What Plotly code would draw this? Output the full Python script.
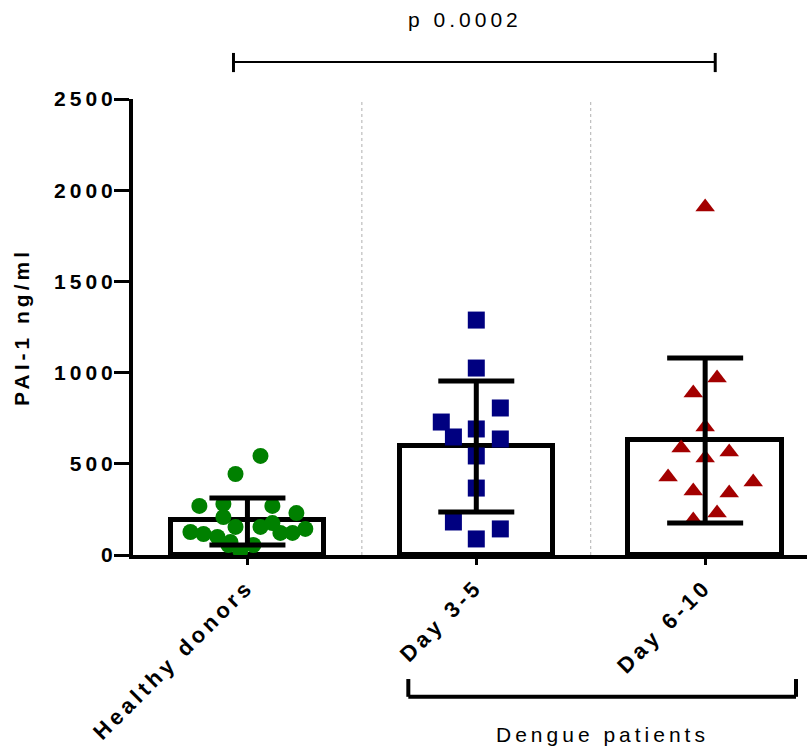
import plotly.graph_objects as go

# ---- data ----
categories = ["Healthy donors", "Day 3-5", "Day 6-10"]
bar_means = [192, 598, 630]
err_upper = [312, 954, 1080]
err_lower = [55, 236, 175]

healthy_values = [543, 444, 269, 280, 269, 230, 208, 154, 126, 115, 99, 71,
                  154, 175, 121, 121, 143, 22, 55, 55]
healthy_jitter = [0.057, -0.052, -0.21, -0.105, 0.109, 0.214, -0.105, -0.052,
                  -0.249, -0.192, -0.131, -0.074, 0.057, 0.109, 0.144, 0.197,
                  0.253, -0.031, 0.026, -0.083]

day35_values = [1288, 1025, 806, 729, 647, 691, 636, 543, 367, 181, 143, 88]
day35_jitter = [0.0, 0.0, 0.105, -0.153, -0.1, 0.0, 0.105, 0.0, 0.0, -0.1, 0.105, 0.0]

day610_values = [1908, 970, 888, 702, 587, 565, 532, 428, 400, 351, 340, 230, 192]
day610_jitter = [0.0, 0.052, -0.052, 0.0, -0.105, 0.105, 0.0, -0.162, 0.21,
                 -0.052, 0.105, 0.052, -0.052]

y_ticks = [0, 500, 1000, 1500, 2000, 2500]
p_text = "p 0.0002"
group_text = "Dengue patients"
y_title = "PAI-1 ng/ml"

FONT = "Liberation Sans, Arial, sans-serif"
FS = 21

fig = go.Figure()

# bars (white fill, black outline)
fig.add_trace(go.Bar(
    x=[0, 1, 2], y=bar_means, width=0.67,
    marker=dict(color="white", line=dict(color="black", width=5)),
    hoverinfo="skip", showlegend=False,
))

# points
groups = [
    (0, healthy_values, healthy_jitter, "circle", "#008000", 16),
    (1, day35_values, day35_jitter, "square", "#000080", 17),
    (2, day610_values, day610_jitter, "triangle-up", "#A30000", 17),
]
for gi, vals, jit, sym, col, sz in groups:
    fig.add_trace(go.Scatter(
        x=[gi + j for j in jit], y=vals, mode="markers",
        marker=dict(symbol=sym, color=col, size=sz, line=dict(width=0)),
        cliponaxis=False, showlegend=False,
    ))

# error bars (drawn on top of points)
fig.add_trace(go.Scatter(
    x=[0, 1, 2], y=bar_means, mode="markers",
    marker=dict(size=1, color="rgba(0,0,0,0)"),
    error_y=dict(type="data", symmetric=False,
                 array=[u - m for u, m in zip(err_upper, bar_means)],
                 arrayminus=[m - l for m, l in zip(bar_means, err_lower)],
                 thickness=5, width=38, color="black"),
    cliponaxis=False, showlegend=False,
))

shapes = []
# dotted separators between groups
for xs in (0.5, 1.5):
    shapes.append(dict(type="line", xref="x", yref="paper", x0=xs, x1=xs, y0=0, y1=1,
                       line=dict(color="#b0b0b0", width=1, dash="dot"), layer="below"))
# significance bracket
shapes.append(dict(type="line", xref="x", yref="paper", x0=-0.061, x1=2.044, y0=1.081, y1=1.081,
                   line=dict(color="black", width=2)))
for xe in (-0.061, 2.044):
    shapes.append(dict(type="line", xref="x", yref="paper", x0=xe, x1=xe, y0=1.059, y1=1.101,
                       line=dict(color="black", width=3)))
# dengue bracket
shapes.append(dict(type="line", xref="x", yref="paper", x0=0.703, x1=2.397, y0=-0.311, y1=-0.311,
                   line=dict(color="black", width=4)))
for xe in (0.703, 2.397):
    shapes.append(dict(type="line", xref="x", yref="paper", x0=xe, x1=xe, y0=-0.311, y1=-0.272,
                       line=dict(color="black", width=4)))

fig.update_layout(
    width=807, height=748,
    margin=dict(l=133, r=0, t=99, b=193),
    paper_bgcolor="white", plot_bgcolor="white",
    font=dict(family=FONT, size=FS, color="black"),
    bargap=0, showlegend=False,
    shapes=shapes,
    annotations=[
        dict(text=p_text, x=0.95, y=1.175, xref="x", yref="paper",
             showarrow=False, xanchor="center", yanchor="middle",
             font=dict(family=FONT, size=FS, color="black")),
        dict(text=group_text, x=1.55, y=-0.394, xref="x", yref="paper",
             showarrow=False, xanchor="center", yanchor="middle",
             font=dict(family=FONT, size=FS, color="black")),
    ],
)

fig.update_xaxes(
    range=[-0.5, 2.445], tickvals=[0, 1, 2], ticktext=categories,
    tickangle=-45, showline=True, linecolor="black", linewidth=4,
    ticks="outside", ticklen=6, tickwidth=3, tickcolor="black",
    showgrid=False, zeroline=False,
    tickfont=dict(family=FONT, size=22, color="black", weight="bold"),
)
fig.update_yaxes(
    range=[0, 2500], tickvals=y_ticks, showline=True, linecolor="black", linewidth=4,
    ticks="outside", ticklen=15, tickwidth=3, tickcolor="black",
    ticklabelstandoff=-7,
    showgrid=False, zeroline=False,
    tickfont=dict(family=FONT, size=FS, color="black", weight="bold"),
    title=dict(text=y_title, standoff=36,
               font=dict(family=FONT, size=FS, color="black", weight="bold")),
)

post = """
var gd = document.getElementById('{plot_id}');
function ls(){
  gd.querySelectorAll('text').forEach(function(t){ t.style.letterSpacing = '4px'; });
}
ls();
if (gd.on) { gd.on('plotly_afterplot', ls); }
"""

fig.write_html("out.html", post_script=post)
